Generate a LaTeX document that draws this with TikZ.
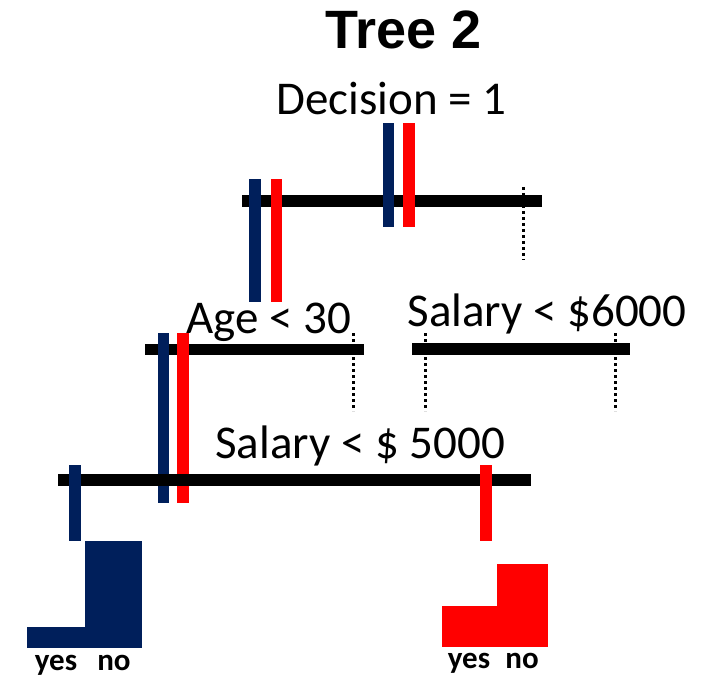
\documentclass[tikz,border=0pt]{standalone}
\usepackage{fontspec}
\newfontfamily\calibrifont{Carlito}
\newfontfamily\arialfont{Liberation Sans}
\usetikzlibrary{positioning}
\definecolor{navy}{RGB}{0,31,91}
\definecolor{vred}{RGB}{255,0,0}

\begin{document}
\begin{tikzpicture}[
  x=1pt, y=-1pt,
  split/.style={fill=black},
  navybar/.style={fill=navy},
  redbar/.style={fill=vred},
  cut/.style={line width=3pt, dash pattern=on 3pt off 3pt},
  rule/.style={font=\calibrifont\fontsize{47}{56}\selectfont, inner sep=0pt, anchor=base},
  tally/.style={font=\calibrifont\bfseries\fontsize{31}{37}\selectfont, inner sep=0pt, anchor=base},
  heading/.style={font=\arialfont\bfseries\fontsize{54}{64}\selectfont, inner sep=0pt, anchor=base}
]
\useasboundingbox (0,0) rectangle (707,679);

\node[heading] (title) at (404,49) {Tree 2};

% root split
\node[rule] (root) at (391.5,115) {Decision = 1};
\fill[split] (242,195) rectangle (542,207);
\draw[cut] (523,187) -- (523,260);
\fill[navybar] (383,123) rectangle (394,227);
\fill[redbar] (403,123) rectangle (415,227);
\fill[navybar] (249,179) rectangle (261,302);
\fill[redbar] (271,179) rectangle (282,302);

% second level
\node[rule] (age) at (269,333) {Age < 30};
\node[rule] (sal6) at (547,326) {Salary < \$6000};
\fill[split] (145,344) rectangle (364,355);
\fill[split] (412,343) rectangle (630,355);
\draw[cut] (353,333) -- (353,411);
\draw[cut] (425,333) -- (425,411);
\draw[cut] (615,333) -- (615,411);
\fill[navybar] (158,333) rectangle (169,503);
\fill[redbar] (177,333) rectangle (189,503);

% third level
\node[rule] (sal5) at (360,458) {Salary < \$ 5000};
\fill[split] (58,474) rectangle (531,486);
\fill[navybar] (69,465) rectangle (81,541);
\fill[redbar] (480,465) rectangle (492,541);

% leaf counts
\fill[navybar] (85,541) rectangle (142,648);
\fill[navybar] (27,627) rectangle (85,648);
\fill[redbar] (442,606) rectangle (497,647);
\fill[redbar] (497,564) rectangle (548,647);
\node[tally] (yesL) at (56,670) {yes};
\node[tally] (noL) at (114,670) {no};
\node[tally] (yesR) at (469,668) {yes};
\node[tally] (noR) at (522,668) {no};
\end{tikzpicture}
\end{document}
